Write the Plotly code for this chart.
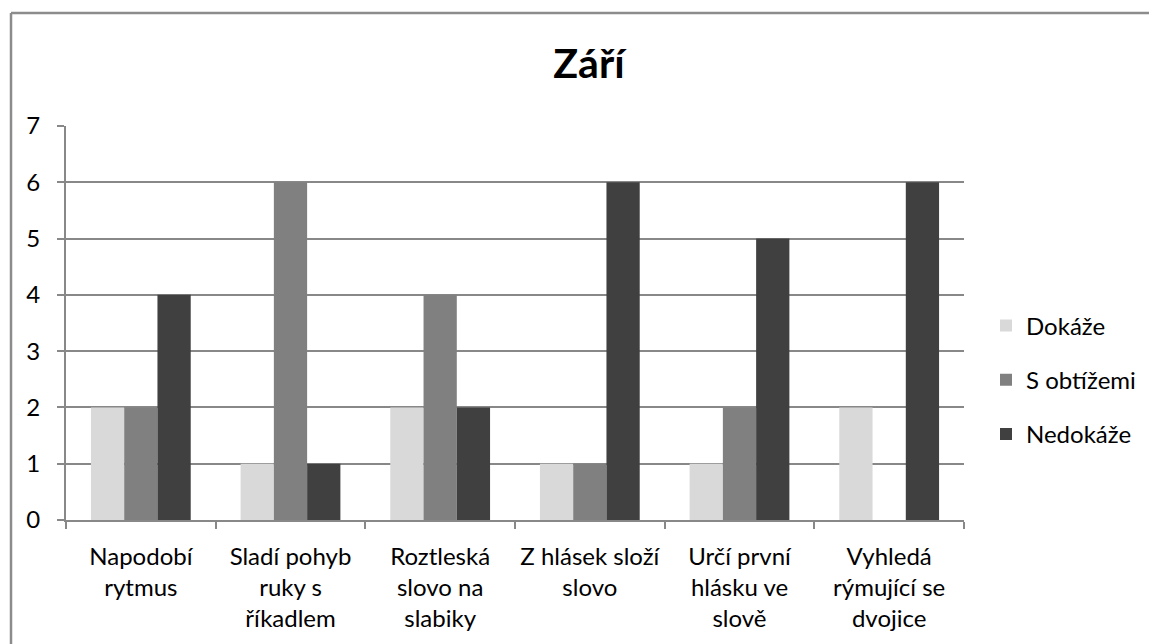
import plotly.graph_objects as go

# data
categories = [
    "Napodobí<br>rytmus",
    "Sladí pohyb<br>ruky s<br>říkadlem",
    "Roztleská<br>slovo na<br>slabiky",
    "Z hlásek složí<br>slovo",
    "Určí první<br>hlásku ve<br>slově",
    "Vyhledá<br>rýmující se<br>dvojice",
]
dokaze = [2, 1, 2, 1, 1, 2]
s_obtizemi = [2, 6, 4, 1, 2, 0]
nedokaze = [4, 1, 2, 6, 5, 6]

series_names = ["Dokáže", "S obtížemi", "Nedokáže"]
series_colors = ["#d9d9d9", "#808080", "#404040"]

FONT = "Lato, 'Open Sans', sans-serif"
GRID = "#888888"
BORDER = "#8c8c8c"

# page body adds an 8px offset, so the figure is a bit smaller than the window
W, H = 1149, 636
L, T = 58, 118
R = W - 956
B = H - 512
pw, ph = W - L - R, H - T - B

fig = go.Figure()
for name, vals, col in zip(series_names, [dokaze, s_obtizemi, nedokaze], series_colors):
    fig.add_trace(go.Bar(
        x=categories,
        y=vals,
        name=name,
        legendgroup=name,
        marker=dict(color=col, line=dict(width=0)),
    ))

# outer chart border: only left and top edges fall inside the frame
bx0 = (3 - L) / pw
by1 = ((H - B) - 5) / ph
fig.add_shape(type="line", xref="paper", yref="paper",
              x0=bx0, x1=bx0, y0=-(H + 30 - (H - B)) / ph, y1=by1,
              line=dict(color=BORDER, width=2.5), layer="below")
fig.add_shape(type="line", xref="paper", yref="paper",
              x0=bx0, x1=(W + 30 - L) / pw, y0=by1, y1=by1,
              line=dict(color=BORDER, width=2.5), layer="below")

fig.update_layout(
    width=W, height=H,
    paper_bgcolor="white", plot_bgcolor="white",
    margin=dict(l=L, r=R, t=T, b=B, autoexpand=False),
    barmode="group",
    bargap=1 / 3,
    bargroupgap=0,
    title=dict(text="<b>Září</b>", x=581 / W, xanchor="center",
               y=1 - 56 / H, yanchor="middle",
               font=dict(family=FONT, size=41, color="black")),
    font=dict(family=FONT, size=24, color="black"),
    showlegend=True,
    legend=dict(
        x=(978 - L) / pw, xanchor="left",
        y=(H - B - 372) / ph, yanchor="middle",
        traceorder="grouped", tracegroupgap=20,
        font=dict(family=FONT, size=24, color="black"),
        bgcolor="rgba(0,0,0,0)",
    ),
    xaxis=dict(
        showgrid=False,
        showline=True, linecolor=GRID, linewidth=2,
        ticks="outside", tickson="boundaries", ticklen=7, tickcolor=GRID, tickwidth=2,
        tickangle=0,
        ticklabelstandoff=14,
        tickfont=dict(family=FONT, size=24, color="black"),
    ),
    yaxis=dict(
        range=[0, 7], dtick=1,
        showgrid=True, gridcolor=GRID, gridwidth=2,
        zeroline=False,
        showline=True, linecolor=GRID, linewidth=2,
        ticks="outside", ticklen=7, tickcolor=GRID, tickwidth=2,
        ticklabelstandoff=12,
        tickfont=dict(family=FONT, size=24, color="black"),
    ),
)

fig.write_html("out.html")
